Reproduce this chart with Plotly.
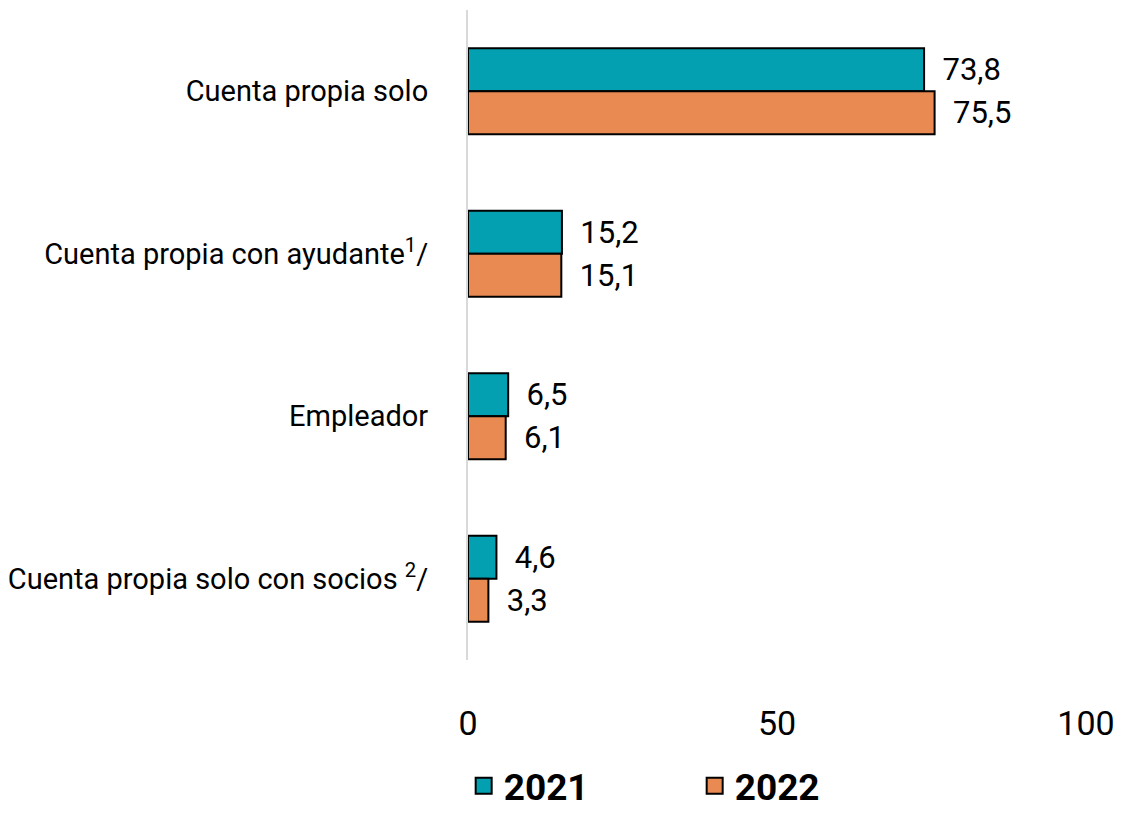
import plotly.graph_objects as go

categories = ["Cuenta propia solo", "Cuenta propia con ayudante<sup>1</sup>/", "Empleador",
              "Cuenta propia solo con socios <sup>2</sup>/"]
series_names = ["2021", "2022"]
values_2021 = [73.8, 15.2, 6.5, 4.6]
values_2022 = [75.5, 15.1, 6.1, 3.3]
x_ticks = [0, 50, 100]

colors = ["#02A0B0", "#E98A52"]
FONT = "Roboto, Open Sans, sans-serif"

fig = go.Figure()
for name, vals, col in zip(series_names, [values_2021, values_2022], colors):
    fig.add_trace(go.Bar(
        y=categories, x=vals, name=name, orientation="h", showlegend=False,
        marker=dict(color=col, line=dict(color="black", width=2)),
        texttemplate="  %{x:.1f}", textposition="outside",
        textfont=dict(size=31, color="black", family=FONT),
        cliponaxis=False,
    ))
# legend entries with larger square symbols
for name, col in zip(series_names, colors):
    fig.add_trace(go.Scatter(
        x=[None], y=[None], mode="markers", name=name, showlegend=True,
        marker=dict(symbol="square", size=24, color=col, line=dict(color="black", width=2)),
    ))

fig.update_layout(
    width=1114, height=808,
    margin=dict(l=460, r=36, t=2, b=156, autoexpand=False),
    paper_bgcolor="white", plot_bgcolor="white",
    barmode="group", bargap=0.47, bargroupgap=0,
    separators=",.",
    font=dict(family=FONT, size=30, color="black"),
    showlegend=True,
    legend=dict(orientation="h", x=-0.007, xanchor="left",
                yref="container", y=0.037, yanchor="middle",
                font=dict(size=37, family=FONT, weight="bold"), entrywidth=186,
                traceorder="normal", itemsizing="trace"),
    xaxis=dict(range=[0, 100], tickvals=x_ticks, showgrid=False, zeroline=False,
               showline=False, ticks="", ticklabelstandoff=40, automargin=False,
               tickfont=dict(size=34, family=FONT)),
    yaxis=dict(autorange="reversed", showgrid=False, zeroline=False,
               showline=True, linecolor="#D9D9D9", linewidth=2, ticks="",
               ticklabelstandoff=32, automargin=False,
               tickfont=dict(size=29, family=FONT)),
)

fig.write_html("out.html")
